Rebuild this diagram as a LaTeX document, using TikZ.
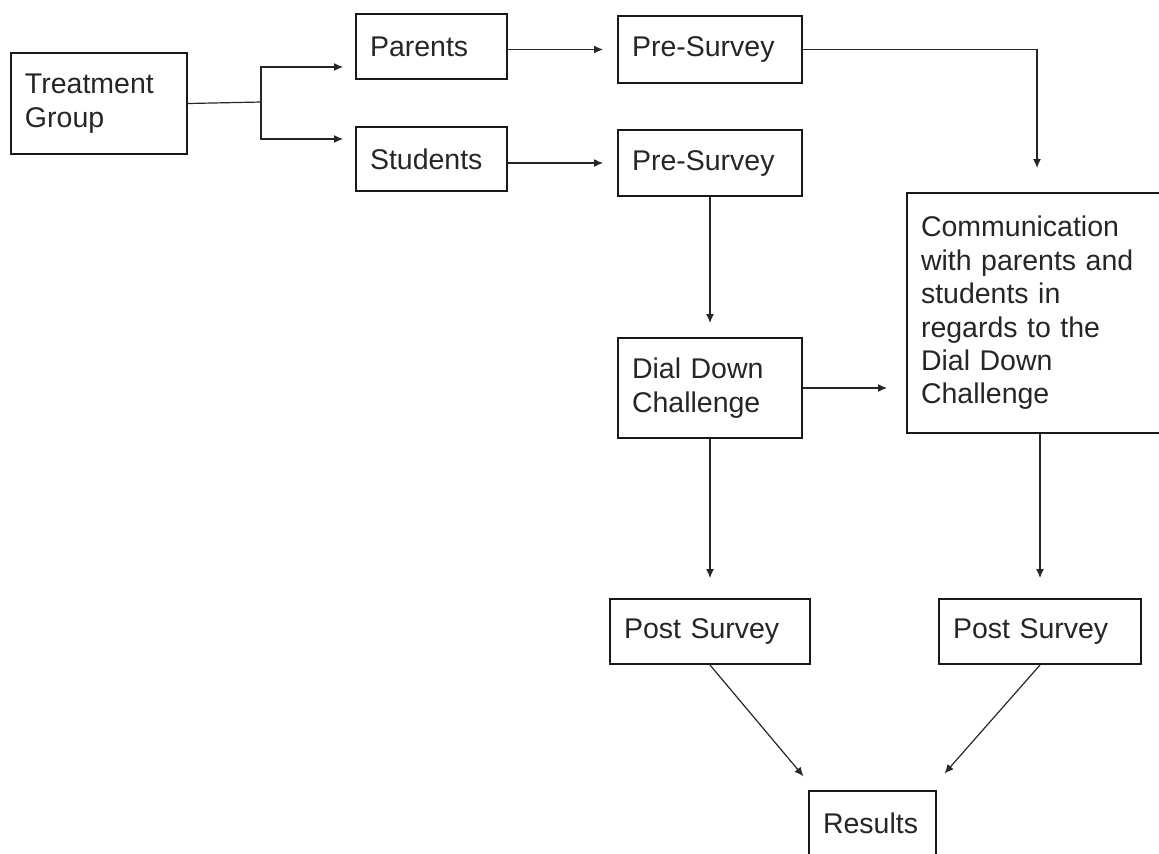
\documentclass[tikz,border=0pt]{standalone}
\usepackage{fontspec}
\setmainfont{Liberation Sans}
\tikzstyle{box}=[rectangle,draw=black!90,line width=1pt,anchor=north west,
inner xsep=7pt,inner ysep=0pt,align=left,text=black!85,
font=\fontsize{14.25}{16.7}\selectfont]
\tikzstyle{flow}=[->,color=black!85,line width=0.6pt]
\tikzstyle{line}=[draw=black!85,line width=0.6pt]
\usetikzlibrary{arrows.meta,positioning}

\begin{document}
\begin{tikzpicture}[x=0.5pt,y=-0.5pt,>={Latex[length=4.5pt,width=4pt]}]
            \useasboundingbox (0,0) rectangle (1159,853);

            % GROUP PART

            \node[box,text width=74pt,minimum height=50.5pt] (tg) at (10,52) {Treatment\\Group};
            \node[box,text width=61.5pt,minimum height=32.5pt] (par) at (355,13) {Parents};
            \node[box,text width=61.5pt,minimum height=32pt,below=23pt of par] (stu) {Students};

            \coordinate (fork) at (261,102);
            \draw[line] (tg.east) -- (fork);
            \draw[flow,shorten >=6pt] (fork) |- ([yshift=6.5pt]par.south west);
            \draw[flow,shorten >=6pt] (fork) |- ([yshift=-6.5pt]stu.north west);

            % SURVEY PART

            \node[box,text width=78pt,minimum height=33.5pt] (preA) at (617,15) {Pre-Survey};
            \node[box,text width=78pt,minimum height=33pt,below=22.5pt of preA] (preB) {Pre-Survey};
            \node[box,text width=78pt,minimum height=50pt,below=70pt of preB] (dial) {Dial Down\\Challenge};
            \node[box,text width=116pt,minimum height=120pt] (comm) at (906,192)
                {Communication\\with parents and\\students in\\regards to the\\Dial Down\\Challenge};

            \path[flow,shorten >=7pt] (par.east |- preA.west) edge node {} (preA.west);
            \path[flow,shorten >=7pt] (stu.east |- preB.west) edge node {} (preB.west);
            \draw[flow,shorten >=12pt] (preA.east) -| (comm.north);
            \path[flow,shorten >=7pt] (preB) edge node {} (dial);
            \path[flow,shorten >=9.5pt] (dial) edge node {} (dial.east -| comm.west);

            % RESULTS PART

            \node[box,text width=86pt,minimum height=32.5pt] (postA) at (609,598) {Post Survey};
            \node[box,text width=87pt,minimum height=32.5pt,right=63.5pt of postA] (postB) {Post Survey};
            \node[box,text width=49.5pt,minimum height=32.5pt] (res) at (808,790) {Results};

            \path[flow,shorten >=10pt] (dial) edge node {} (postA);
            \path[flow,shorten >=10pt] (comm.south -| postB.north) edge node {} (postB.north);
            \path[flow,shorten >=9pt] (postA.south) edge node {} ([xshift=3.5pt]res.north west);
            \path[flow,shorten >=11pt] (postB.south) edge node {} ([xshift=-3.5pt]res.north east);

\end{tikzpicture}
\end{document}
